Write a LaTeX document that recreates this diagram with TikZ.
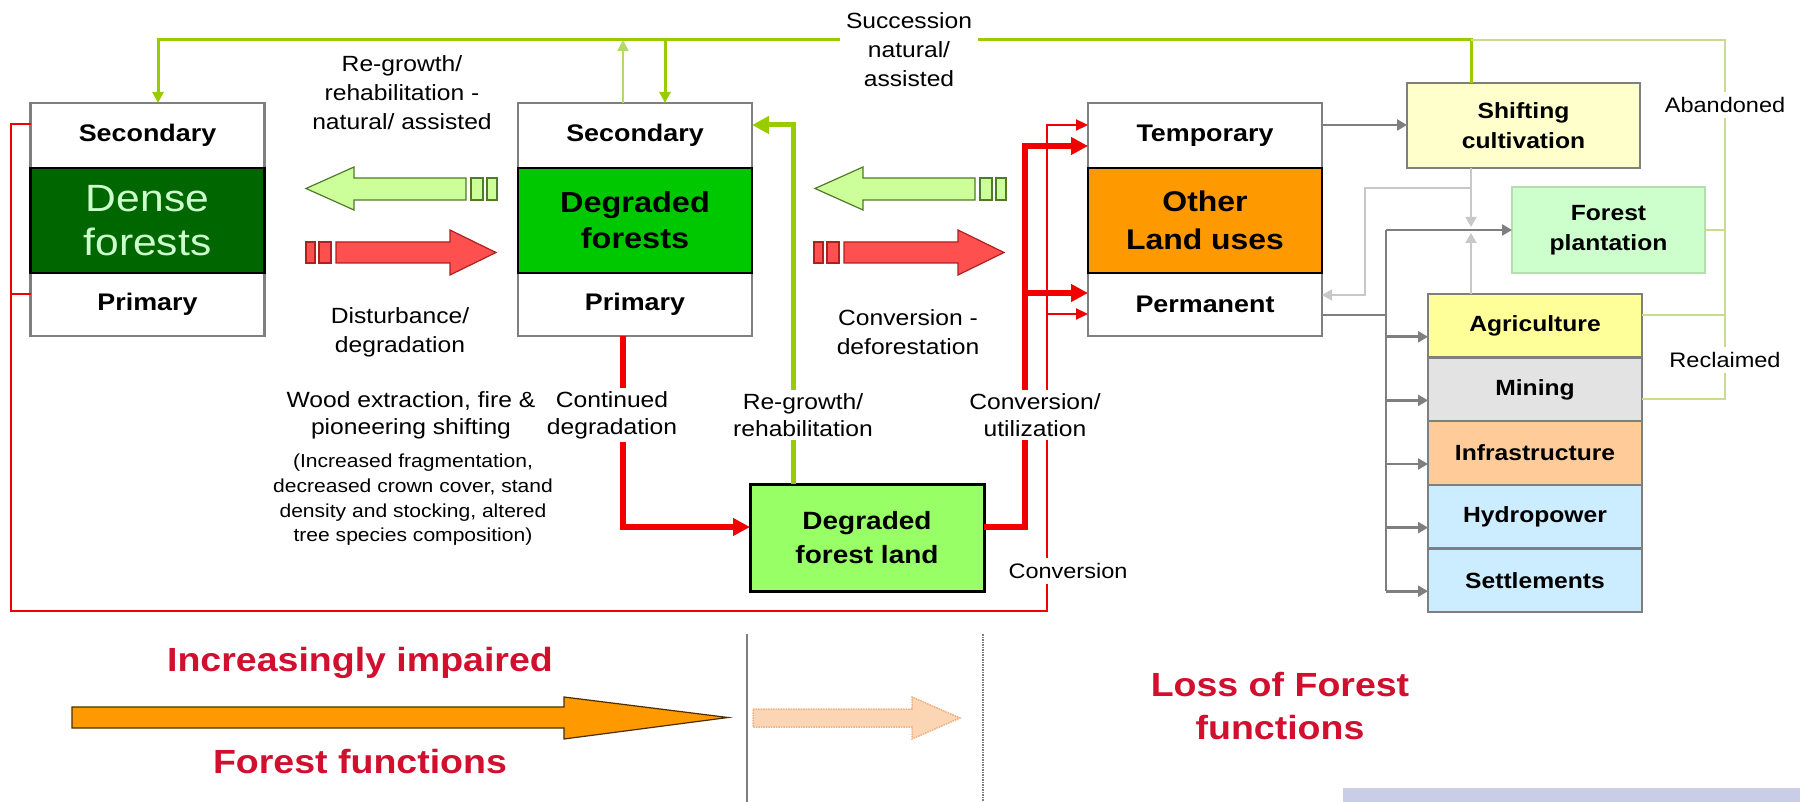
\documentclass[tikz,border=0pt]{standalone}
\usepackage{fontspec}
\setmainfont{Liberation Sans}[FakeStretch=1.12]
\usepackage{xcolor}
\usepackage{tikz}
\usetikzlibrary{arrows.meta,calc}
\definecolor{densegreen}{HTML}{006600}
\definecolor{mint}{HTML}{CCFFCC}
\definecolor{deggreen}{HTML}{00C800}
\definecolor{landorange}{HTML}{FF9900}
\definecolor{dflgreen}{HTML}{99FF66}
\definecolor{shiftyellow}{HTML}{FFFFCC}
\definecolor{plantgreen}{HTML}{CCFFCC}
\definecolor{plantedge}{HTML}{B5DDB0}
\definecolor{agriyellow}{HTML}{FFFF99}
\definecolor{mininggray}{HTML}{E3E3E3}
\definecolor{infrapeach}{HTML}{FFCC99}
\definecolor{waterblue}{HTML}{CCECFF}
\definecolor{boxgray}{HTML}{7F7F7F}
\definecolor{palegray}{HTML}{C8C8C8}
\definecolor{linegreen}{HTML}{99CC00}
\definecolor{softgreen}{HTML}{B4D86A}
\definecolor{fadegreen}{HTML}{CADB8F}
\definecolor{linered}{HTML}{F00000}
\definecolor{textred}{HTML}{D0102E}
\definecolor{blockred}{HTML}{FF5050}
\definecolor{blockrededge}{HTML}{B02020}
\definecolor{blockgreen}{HTML}{CCFF99}
\definecolor{blockgreenedge}{HTML}{4F7A28}
\definecolor{peach}{HTML}{FCD5B4}
\definecolor{peachedge}{HTML}{F0B080}
\definecolor{lavender2}{HTML}{C9CDE8}

\begin{document}
\begin{tikzpicture}[x=1pt, y=1pt, yscale=-1, inner sep=0pt, outer sep=0pt,
  band/.style={draw=boxgray, fill=white, line width=2.2pt, minimum width=234pt,
    font=\bfseries\fontsize{24}{29}\selectfont, align=center},
  core/.style={draw=black, line width=2.4pt, minimum width=234pt, minimum height=105pt, align=center},
  sidebox/.style={draw=boxgray, line width=2.2pt, align=center,
    font=\bfseries\fontsize{22}{30}\selectfont},
  stackbox/.style={sidebox, minimum width=214pt, minimum height=63.6pt},
  lbl/.style={fill=white, inner sep=3pt, align=center, font=\fontsize{22}{29}\selectfont},
  biglbl/.style={text=textred, align=center, font=\bfseries\fontsize{33.5}{43}\selectfont},
  redthin/.style={draw=linered, line width=2.2pt},
  redthick/.style={draw=linered, line width=5.5pt},
  greenline/.style={draw=linegreen, line width=3pt},
  greenthin/.style={draw=softgreen, line width=2pt},
  greenfaint/.style={draw=fadegreen, line width=1.8pt},
  greenthick/.style={draw=linegreen, line width=5pt},
  grayline/.style={draw=boxgray, line width=2.6pt},
  paleline/.style={draw=palegray, line width=2pt},
  tipS/.style={-{Triangle[length=10pt,width=11pt]}},
  tipR/.style={-{Triangle[length=17pt,width=17pt]}},
  tipr/.style={-{Triangle[length=12pt,width=11pt]}},
  tipG/.style={-{Triangle[length=11pt,width=11pt]}}]
\useasboundingbox (0,0) rectangle (1800,802);

\node[band, minimum height=65pt] (dense-sec) at (147.5,135.5) {Secondary};
\node[band, minimum height=63pt] (dense-pri) at (147.5,304.5) {Primary};
\node[core, fill=densegreen, text=mint, font=\fontsize{38}{44}\selectfont] (dense-core) at (147.5,220.5) {Dense\\forests};

\node[band, minimum height=65pt] (deg-sec) at (635,135.5) {Secondary};
\node[band, minimum height=63pt] (deg-pri) at (635,304.5) {Primary};
\node[core, fill=deggreen, font=\bfseries\fontsize{29}{36}\selectfont] (deg-core) at (635,220.5) {Degraded\\forests};

\node[band, minimum height=65pt] (oth-sec) at (1205,135.5) {Temporary};
\node[band, minimum height=63pt] (oth-pri) at (1205,304.5) {Permanent};
\node[core, fill=landorange, font=\bfseries\fontsize{28.5}{38}\selectfont] (oth-core) at (1205,220.5) {Other\\Land uses};

\node[sidebox, fill=shiftyellow, minimum width=233pt, minimum height=85pt] (shifting) at (1523.5,125.5) {Shifting\\cultivation};
\node[sidebox, draw=plantedge, fill=plantgreen, minimum width=193pt, minimum height=86pt] (plantation) at (1608.5,230) {Forest\\plantation};
\node[stackbox, fill=agriyellow] (agri) at (1535,325.8) {Agriculture};
\node[stackbox, fill=mininggray] (mining) at (1535,389.4) {Mining};
\node[stackbox, fill=infrapeach] (infra) at (1535,453) {Infrastructure};
\node[stackbox, fill=waterblue] (hydro) at (1535,516.6) {Hydropower};
\node[stackbox, fill=waterblue] (settle) at (1535,580.2) {Settlements};

\node[draw=black, line width=3pt, fill=dflgreen, minimum width=234pt, minimum height=107pt, align=center,
  font=\bfseries\fontsize{25}{34}\selectfont] (dfl) at (867,537.5) {Degraded\\forest land};

\coordinate (topline) at (1725,40);
\coordinate (sc-top) at ($(shifting.north)+(-52.5,0)$);
\coordinate (sc-bot) at ($(shifting.south)+(-52.5,0)$);
\coordinate (dn-dense) at ($(dense-sec.north)+(10.5,0)$);
\coordinate (dn-deg) at ($(deg-sec.north)+(30,0)$);
\coordinate (up-deg) at ($(deg-sec.north)+(-12,0)$);
\coordinate (ag-out) at ($(agri.east)+(0,-10.5)$);
\coordinate (mi-out) at ($(mining.east)+(0,9.5)$);

\draw[greenline, tipG] (sc-top) |- (dn-dense |- topline) -- (dn-dense);
\draw[greenline, tipG] (dn-deg |- topline) -- (dn-deg);
\draw[greenthin, tipG] (up-deg) -- (up-deg |- topline);
\draw[greenfaint] (sc-top |- topline) -- (topline) |- (mi-out);
\draw[greenfaint] (plantation.east) -- (plantation.east -| topline);
\draw[greenfaint] (ag-out) -- (ag-out -| topline);

\coordinate (rg-bot) at ($(dfl.north)+(-74,0)$);
\coordinate (rg-in) at ($(deg-sec.east)+(0,-10.5)$);
\draw[greenthick, tipR] (rg-bot) |- (rg-in);

\coordinate (cd-top) at ($(deg-pri.south)+(-12,0)$);
\coordinate (dfl-in) at ($(dfl.west)+(0,-10.5)$);
\coordinate (dfl-out) at ($(dfl.east)+(0,-10.5)$);
\coordinate (cu) at ($(dfl-out)+(41,0)$);
\coordinate (in-t1) at ($(oth-sec.west)+(0,-10.5)$);
\coordinate (in-t2) at ($(oth-sec.west)+(0,10.5)$);
\coordinate (in-p1) at ($(oth-pri.west)+(0,-11.5)$);
\coordinate (in-p2) at ($(oth-pri.west)+(0,9.5)$);
\draw[redthick, tipR] (cd-top) |- (dfl-in);
\draw[redthick, tipR] (dfl-out) -- (cu) |- (in-t2);
\draw[redthick, tipR] (in-p1 -| cu) -- (in-p1);

\coordinate (loop-sw) at (11,611);
\coordinate (loop-se) at (1047,611);
\coordinate (pri-out) at ($(dense-pri.west)+(0,-10.5)$);
\draw[redthin, tipr] ($(dense-sec.west)+(0,-11.5)$) -| (loop-sw) -- (loop-se) |- (in-t1);
\draw[redthin] (pri-out) -- (pri-out -| loop-sw);
\draw[redthin, tipr] (in-p2 -| loop-se) -- (in-p2);

\coordinate (out-t) at ($(oth-sec.east)+(0,-10.5)$);
\coordinate (out-p) at ($(oth-pri.east)+(0,10.5)$);
\coordinate (bus) at ($(out-p)+(64,0)$);
\coordinate (ret) at ($(oth-pri.east)+(0,-9.5)$);
\draw[grayline, tipS] (out-t) -- (out-t -| shifting.west);
\draw[grayline] (out-p) -- (bus);
\draw[grayline] (bus |- plantation.west) -- ($(bus |- settle.west)+(0,11)$);
\draw[grayline, tipS] (bus |- plantation.west) -- (plantation.west);
\foreach \b in {agri,mining,infra,hydro,settle}
  \draw[grayline, tipS] ($(bus |- \b.west)+(0,11)$) -- ($(\b.west)+(0,11)$);
\draw[paleline, tipS, shorten >=3pt] (sc-bot) -- (sc-bot |- plantation.west);
\draw[paleline, tipS, shorten >=3pt] (sc-bot |- agri.north) -- (sc-bot |- plantation.west);
\draw[paleline, tipS] ($(sc-bot)+(0,20)$) -| ($(ret)+(43,0)$) -- (ret);

\path[fill=blockgreen, draw=blockgreenedge, line width=1.2pt] (306,188.5) -- (354,167) -- (354,178) -- (466,178)
  -- (466,200) -- (354,200) -- (354,210) -- cycle;
\path[fill=blockgreen, draw=blockgreenedge, line width=1.2pt] (471,178) rectangle (483,200) (487,178) rectangle (497,200);
\path[fill=blockgreen, draw=blockgreenedge, line width=1.2pt] (815,188.5) -- (863,167) -- (863,178) -- (975,178)
  -- (975,200) -- (863,200) -- (863,210) -- cycle;
\path[fill=blockgreen, draw=blockgreenedge, line width=1.2pt] (980,178) rectangle (992,200) (996,178) rectangle (1006,200);
\path[fill=blockred, draw=blockrededge, line width=1.2pt] (306,242) rectangle (315,263) (319,242) rectangle (331,263);
\path[fill=blockred, draw=blockrededge, line width=1.2pt] (336,242) -- (450,242) -- (450,230) -- (496,252.5)
  -- (450,275) -- (450,263) -- (336,263) -- cycle;
\path[fill=blockred, draw=blockrededge, line width=1.2pt] (814,242) rectangle (823,263) (827,242) rectangle (839,263);
\path[fill=blockred, draw=blockrededge, line width=1.2pt] (844,242) -- (958,242) -- (958,230) -- (1004,252.5)
  -- (958,275) -- (958,263) -- (844,263) -- cycle;

\node[lbl] (lab-regrowth) at (402,93) {Re-growth/\\rehabilitation -\\natural/ assisted};
\node[lbl] (lab-disturb) at (400,332.5) {Disturbance/\\degradation};
\node[lbl, inner sep=6pt] (lab-succession) at (909,50) {Succession\\natural/\\assisted};
\node[lbl] (lab-deforest) at (908,332.5) {Conversion -\\deforestation};
\node[lbl, font=\fontsize{22}{27}\selectfont] (lab-wood) at (411,415.5) {Wood extraction, fire \&\\pioneering shifting};
\node[lbl, font=\fontsize{18.8}{24.7}\selectfont] (lab-effects) at (413,500) {(Increased fragmentation,\\decreased crown cover, stand\\density and stocking, altered\\tree species composition)};
\node[lbl, font=\fontsize{22}{27}\selectfont] (lab-continued) at (612,415) {Continued\\degradation};
\node[lbl, font=\fontsize{22}{27}\selectfont] (lab-rehab) at (803,415) {Re-growth/\\rehabilitation};
\node[lbl, font=\fontsize{22}{27}\selectfont] (lab-util) at (1035,415) {Conversion/\\utilization};
\node[lbl, inner sep=5pt, font=\fontsize{21}{27}\selectfont] (lab-conv) at (1068,571) {Conversion};
\node[lbl, inner sep=5pt, font=\fontsize{21}{27}\selectfont] (lab-aband) at (1725,105) {Abandoned};
\node[lbl, inner sep=5pt, font=\fontsize{21}{27}\selectfont] (lab-reclaim) at (1725,360) {Reclaimed};

\path[fill=landorange, draw=black!70!landorange, line width=1.2pt] (72,707) -- (564,707) -- (564,697) -- (728,717.5)
  -- (564,739) -- (564,728) -- (72,728) -- cycle;
\path[fill=peach, draw=peachedge, densely dotted, line width=1.5pt] (753,709) -- (912,709) -- (912,697) -- (960,718)
  -- (912,739) -- (912,727) -- (753,727) -- cycle;
\draw[boxgray, line width=1.5pt] (747,634) -- (747,802);
\draw[boxgray, densely dotted, line width=1.5pt] (983,634) -- (983,802);
\fill[lavender2] (1343,788) rectangle (1800,802);

\node[biglbl] (lab-impaired) at (360,663) {Increasingly impaired};
\node[biglbl] (lab-functions) at (360,762) {Forest functions};
\node[biglbl] (lab-loss) at (1280,706) {Loss of Forest\\functions};
\end{tikzpicture}
\end{document}
